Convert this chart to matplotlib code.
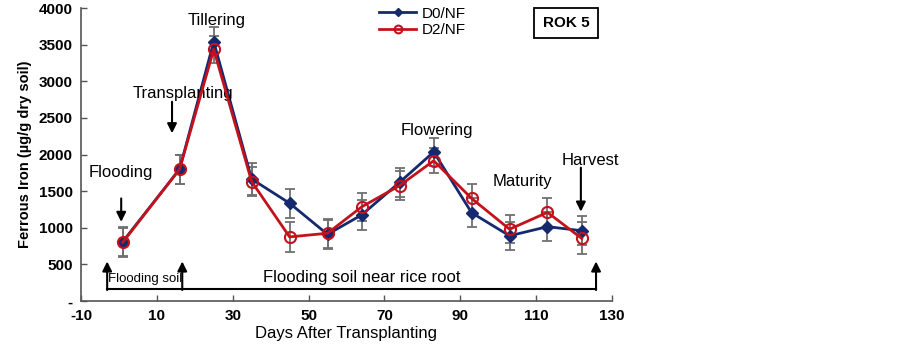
import matplotlib.pyplot as plt

plt.rcParams['font.family'] = ['Liberation Sans', 'DejaVu Sans']
plt.rcParams['axes.unicode_minus'] = False

# days after transplanting and ferrous iron (ug/g dry soil)
days = [1, 16, 25, 35, 45, 55, 64, 74, 83, 93, 103, 113, 122]
d0 = [810, 1800, 3540, 1665, 1335, 910, 1175, 1620, 2035, 1205, 890, 1015, 960]
d2 = [800, 1800, 3435, 1630, 875, 925, 1285, 1575, 1915, 1400, 980, 1210, 855]
d0_err = [200, 200, 200, 220, 200, 200, 200, 200, 190, 200, 190, 200, 200]
d2_err = [200, 200, 180, 200, 200, 200, 195, 200, 170, 200, 190, 200, 220]

xticks = [-10, 10, 30, 50, 70, 90, 110, 130]
yticks = [0, 500, 1000, 1500, 2000, 2500, 3000, 3500, 4000]
ytick_labels = ['-'] + [str(v) for v in yticks[1:]]

navy = '#152a6e'
red = '#c4121c'
grey = '#707070'

fig = plt.figure(figsize=(9.03, 3.54), dpi=100)
ax = fig.add_axes([0.0897, 0.1497, 0.588, 0.8277])

ax.errorbar(days, d0, yerr=d0_err, fmt='none', ecolor=grey, elinewidth=1.3,
            capsize=3.5, capthick=1.3, zorder=2)
ax.errorbar(days, d2, yerr=d2_err, fmt='none', ecolor=grey, elinewidth=1.3,
            capsize=3.5, capthick=1.3, zorder=2)
l0, = ax.plot(days, d0, color=navy, lw=2, marker='D', ms=6, mfc=navy, mec=navy,
              zorder=3, label='D0/NF')
l2, = ax.plot(days, d2, color=red, lw=2, marker='o', ms=8, mfc='none', mec=red,
              mew=1.5, zorder=4, label='D2/NF')

ax.set_xlim(-10, 130)
ax.set_ylim(0, 4000)
ax.set_xticks(xticks)
ax.set_yticks(yticks)
ax.set_yticklabels(ytick_labels)
ax.tick_params(direction='in', length=4, width=1, color='#555555', labelsize=11, pad=6)
for lab in ax.get_xticklabels() + ax.get_yticklabels():
    lab.set_fontweight('bold')
ax.spines['top'].set_visible(False)
ax.spines['right'].set_visible(False)
for s in ['left', 'bottom']:
    ax.spines[s].set_color('#555555')
    ax.spines[s].set_linewidth(1.2)

ax.set_xlabel('Days After Transplanting', fontsize=12, labelpad=2)
ax.set_ylabel('Ferrous Iron (\u00b5g/g dry soil)', fontsize=10.5, fontweight='bold', labelpad=5)

# growth stage labels and arrows
arrow = dict(arrowstyle='-|>', color='black', lw=1.5, mutation_scale=14,
             shrinkA=0, shrinkB=0)
ax.text(0.6, 1760, 'Flooding', ha='center', va='center', fontsize=12)
ax.annotate('', xy=(0.6, 1080), xytext=(0.6, 1400), arrowprops=arrow)
ax.text(17, 2830, 'Transplanting', ha='center', va='center', fontsize=12)
ax.annotate('', xy=(14, 2290), xytext=(14, 2720), arrowprops=arrow)
ax.text(25.8, 3830, 'Tillering', ha='center', va='center', fontsize=12)
ax.text(83.8, 2330, 'Flowering', ha='center', va='center', fontsize=12)
ax.text(106.4, 1630, 'Maturity', ha='center', va='center', fontsize=12)
ax.text(124.2, 1920, 'Harvest', ha='center', va='center', fontsize=12)
ax.annotate('', xy=(121.8, 1220), xytext=(121.8, 1820), arrowprops=arrow)

# flooding bracket
base = 160
ax.plot([-3.1, 125.8], [base, base], color='black', lw=1.5, zorder=3)
for bx in [-3.1, 16.7, 125.8]:
    ax.annotate('', xy=(bx, 540), xytext=(bx, base - 10), arrowprops=arrow)
ax.text(6.8, 305, 'Flooding soil', ha='center', va='center', fontsize=9.5)
ax.text(64, 320, 'Flooding soil near rice root', ha='center', va='center', fontsize=12)

leg = fig.legend(handles=[l0, l2], loc='upper left', bbox_to_anchor=(0.405, 1.02),
                 frameon=False, fontsize=11, handlelength=2.4, labelspacing=0.15,
                 handletextpad=0.4, markerscale=0.7)

fig.text(0.627, 0.935, 'ROK 5', ha='center', va='center', fontsize=11, fontweight='bold',
         bbox=dict(boxstyle='square,pad=0.55', fc='white', ec='black', lw=1.3))

fig.savefig('out.png', dpi=100)
